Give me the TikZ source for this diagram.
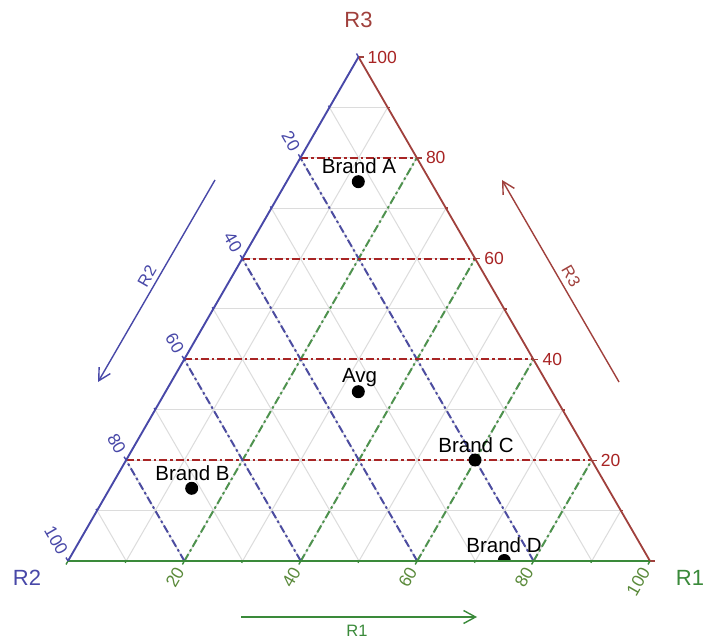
\documentclass[tikz,border=0pt]{standalone}
\usepackage{fontspec}
\setmainfont{Liberation Sans}
\usetikzlibrary{arrows.meta,calc}
\definecolor{cRed}{HTML}{A0403C}
\definecolor{cRedD}{HTML}{A82424}
\definecolor{cBlue}{HTML}{4848A8}
\definecolor{cBlueD}{HTML}{4C4CA0}
\definecolor{cGreen}{HTML}{3A8A3A}
\definecolor{cGreenD}{HTML}{4E924E}
\definecolor{cGreenT}{HTML}{5A8A3A}
\definecolor{cGrid}{HTML}{DCDCDC}
\tikzset{
  gridline/.style={cGrid, line width=1pt},
  majR/.style={cRedD, line width=2pt, dash pattern=on 8pt off 3pt on 2.5pt off 3pt},
  majB/.style={cBlueD, line width=2pt, dash pattern=on 8pt off 3pt on 2.5pt off 3pt},
  majG/.style={cGreenD, line width=2pt, dash pattern=on 8pt off 3pt on 2.5pt off 3pt},
  edgeR/.style={cRed, line width=1.8pt},
  edgeB/.style={cBlue, line width=1.9pt},
  edgeG/.style={cGreen, line width=1.9pt},
  tickR/.style={cRed, line width=1.4pt},
  tickB/.style={cBlue, line width=1.4pt},
  tickG/.style={cGreen, line width=1.4pt},
  tlab/.style={inner sep=0pt, font=\fontsize{17.5}{18}\selectfont},
  ttitle/.style={inner sep=0pt, font=\fontsize{22}{24}\selectfont},
  alab/.style={inner sep=0pt, font=\fontsize{16.5}{18}\selectfont},
  ptdot/.style={circle, fill=black, inner sep=0pt, minimum size=13pt},
  ptlab/.style={inner sep=0pt, anchor=base, font=\fontsize{20.5}{22}\selectfont},
  arr/.style={line width=1.4pt, -{Straight Barb[length=12pt,width=13pt]}},
}
\begin{document}
\begin{tikzpicture}[x=1pt,y=1pt]
\useasboundingbox (0,0) rectangle (703,637);
\fill[white] (0,0) rectangle (703,637);
\coordinate (L) at (68,76);
\coordinate (R) at (650,76);
\coordinate (T) at (358.5,580);
% light grid
\foreach \i in {10,20,...,90} {
  \pgfmathsetmacro\a{\i/100}
  \pgfmathsetmacro\b{1-\a}
  \draw[gridline] (barycentric cs:L=\b,T=\a) -- (barycentric cs:R=\b,T=\a);
  \draw[gridline] (barycentric cs:L=\b,R=\a) -- (barycentric cs:R=\a,T=\b);
  \draw[gridline] (barycentric cs:L=\a,R=\b) -- (barycentric cs:L=\a,T=\b);
}
% major dash-dot lines
\foreach \i in {20,40,60,80} {
  \pgfmathsetmacro\a{\i/100}
  \pgfmathsetmacro\b{1-\a}
  \draw[majG] (barycentric cs:L=\b,R=\a) -- (barycentric cs:R=\a,T=\b);
  \draw[majB] (barycentric cs:L=\a,R=\b) -- (barycentric cs:L=\a,T=\b);
  \draw[majR] (barycentric cs:L=\b,T=\a) -- (barycentric cs:R=\b,T=\a);
}
% points (clipped to triangle)
\begin{scope}
  \clip (L) -- (R) -- (T) -- cycle;
  \node[ptdot] (pA) at (358.3,455.3) {};
  \node[ptdot] (pAvg) at (358.3,245.3) {};
  \node[ptdot] (pC) at (475,177) {};
  \node[ptdot] (pB) at (191.7,148.7) {};
  \node[ptdot] (pD) at (504.3,76.5) {};
\end{scope}
% edges
\draw[edgeG] (L) -- (R);
\draw[edgeR] (R) -- (T);
\draw[edgeB] (T) -- (L);
% ticks: major
\foreach \i in {0,20,...,100} {
  \pgfmathsetmacro\a{\i/100}
  \pgfmathsetmacro\b{1-\a}
  \draw[tickR] (barycentric cs:R=\b,T=\a) -- ++(5,0);
  \draw[tickG] (barycentric cs:R=\a,L=\b) -- ++(240:4);
  \draw[tickB] (barycentric cs:L=\a,T=\b) -- ++(120:4);
}
% ticks: minor
\foreach \i in {10,30,...,90} {
  \pgfmathsetmacro\a{\i/100}
  \pgfmathsetmacro\b{1-\a}
  \draw[tickR] (barycentric cs:R=\b,T=\a) -- ++(2.5,0);
  \draw[tickG] (barycentric cs:R=\a,L=\b) -- ++(240:2);
  \draw[tickB] (barycentric cs:L=\a,T=\b) -- ++(120:2);
}
% tick labels
\foreach \i in {20,40,60,80,100} {
  \pgfmathsetmacro\a{\i/100}
  \pgfmathsetmacro\b{1-\a}
  \path (barycentric cs:R=\b,T=\a) ++(9,0) node[tlab, cRedD, anchor=west] (lr\i) {\i};
  \path (barycentric cs:R=\a,L=\b) ++(240:9) node[tlab, cGreenT, anchor=east, rotate=60] (lg\i) {\i};
  \path (barycentric cs:L=\a,T=\b) ++(120:9) node[tlab, cBlue, anchor=east, rotate=-60] (lb\i) {\i};
}
% axis titles
\node[ttitle, cRed] (tR3) at (358.5,617) {R3};
\node[ttitle, cBlue] (tR2) at (27,59) {R2};
\node[ttitle, cGreen] (tR1) at (690,59) {R1};
% direction arrows
\coordinate (a2s) at (215,457);
\coordinate (a2e) at (98,255);
\draw[arr, cBlue] (a2s) -- (a2e);
\node[alab, cBlue, rotate=60] (aR2) at (147,361) {R2};
\coordinate (a3s) at (619,255);
\coordinate (a3e) at (502,457);
\draw[arr, cRed] (a3s) -- (a3e);
\node[alab, cRed, rotate=-60] (aR3) at (571,361) {R3};
\coordinate (a1s) at (241,20);
\coordinate (a1e) at (477,20);
\draw[arr, cGreen] (a1s) -- (a1e);
\node[alab, cGreen] (aR1) at (357,6) {R1};
% point labels
\node[ptlab] (lA) at (359,463.3) {Brand A};
\node[ptlab] (lAvg) at (359.5,254) {Avg};
\node[ptlab] (lC) at (476,184.5) {Brand C};
\node[ptlab] (lB) at (192.5,157) {Brand B};
\node[ptlab] (lD) at (504,84.5) {Brand D};
\end{tikzpicture}
\end{document}
